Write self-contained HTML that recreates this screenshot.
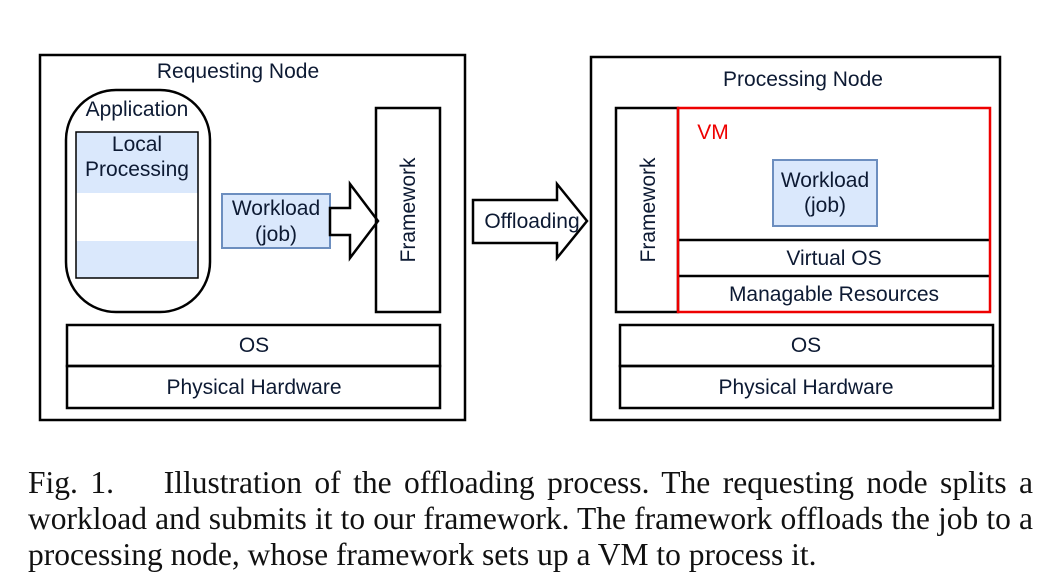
<!DOCTYPE html>
<html><head><style>
body{margin:0;background:#fff;width:1063px;height:587px;overflow:hidden}
svg text{font-family:"Liberation Sans",sans-serif;fill:#0d1a33}
.cap{position:absolute;left:28px;width:1005px;font-family:"Liberation Serif",serif;font-size:31.5px;line-height:36px;color:#111;white-space:nowrap}
.j{text-align:justify;text-align-last:justify}
</style></head><body>
<svg width="1063" height="587" style="position:absolute;left:0;top:0">
<g fill="none" stroke="#000" stroke-width="2.5">
<rect x="40" y="55" width="425" height="365" fill="#fff"/>
<rect x="66" y="90" width="144" height="222" rx="50" ry="50" fill="#fff"/>
</g>
<rect x="76" y="132" width="122" height="61" fill="#dae8fc"/>
<rect x="76" y="241" width="122" height="37" fill="#dae8fc"/>
<rect x="76" y="132" width="122" height="146" fill="none" stroke="#000" stroke-width="1.5"/>
<rect x="222" y="194" width="108" height="54" fill="#dae8fc" stroke="#6c8ebf" stroke-width="2"/>
<polygon points="330,208 350,208 350,184 378,221 350,258 350,235 330,235" fill="#fff" stroke="#000" stroke-width="2.5"/>
<g fill="none" stroke="#000" stroke-width="2.5">
<rect x="376" y="108" width="64" height="204"/>
<rect x="67" y="325" width="373" height="41"/>
<rect x="67" y="366" width="373" height="42"/>
<rect x="591" y="57" width="409" height="363"/>
<rect x="616" y="108" width="62" height="204"/>
<rect x="620" y="325" width="373" height="41"/>
<rect x="620" y="366" width="373" height="42"/>
<line x1="678" y1="240" x2="990" y2="240"/>
<line x1="678" y1="276" x2="990" y2="276"/>
</g>
<polygon points="473,200 557,200 557,184 587,221 557,258 557,243 473,243" fill="#fff" stroke="#000" stroke-width="2.5"/>
<rect x="678" y="108" width="312" height="204" fill="none" stroke="#e00" stroke-width="2.5"/>
<rect x="773" y="160" width="104" height="66" fill="#dae8fc" stroke="#6c8ebf" stroke-width="2"/>
<g font-size="21" text-anchor="middle">
<text x="238" y="78">Requesting Node</text>
<text x="137" y="116">Application</text>
<text x="137" y="151">Local</text>
<text x="137" y="176">Processing</text>
<text x="276" y="215">Workload</text>
<text x="276" y="241">(job)</text>
<text transform="translate(415,210) rotate(-90)">Framework</text>
<text x="254" y="352">OS</text>
<text x="254" y="394">Physical Hardware</text>
<text x="803" y="86">Processing Node</text>
<text x="532" y="228">Offloading</text>
<text transform="translate(655,210) rotate(-90)">Framework</text>
<text x="713" y="139" style="fill:#e00">VM</text>
<text x="825" y="187">Workload</text>
<text x="825" y="212">(job)</text>
<text x="834" y="265">Virtual OS</text>
<text x="834" y="301">Managable Resources</text>
<text x="806" y="352">OS</text>
<text x="806" y="394">Physical Hardware</text>
</g>
</svg>
<div class="cap j" style="top:465px">Fig. 1.&nbsp;&nbsp;&nbsp; Illustration of the offloading process. The requesting node splits a</div>
<div class="cap j" style="top:501px">workload and submits it to our framework. The framework offloads the job to a</div>
<div class="cap" style="top:537px">processing node, whose framework sets up a VM to process it.</div>
</body></html>
